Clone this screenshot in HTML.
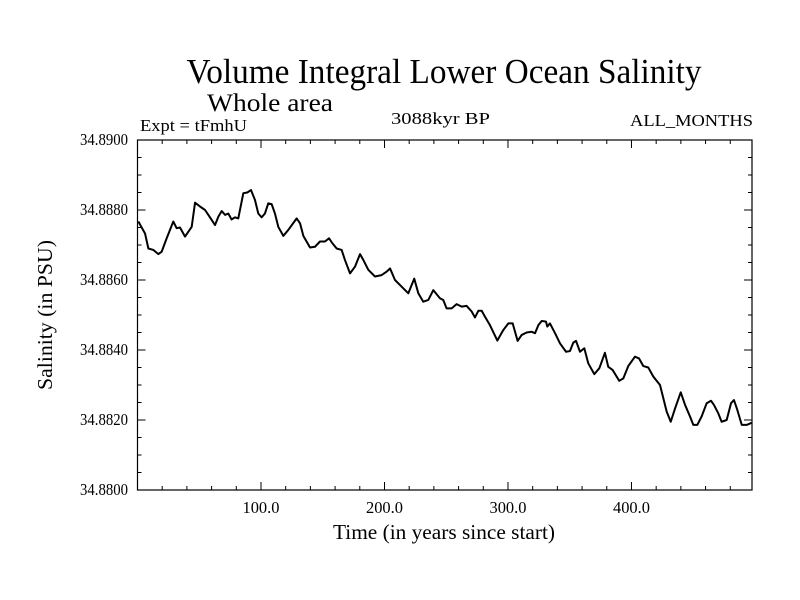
<!DOCTYPE html>
<html><head><meta charset="utf-8"><style>
html,body{margin:0;padding:0;background:#fff;}
svg{display:block;font-family:"Liberation Serif","Times New Roman",serif;}
</style></head><body>
<svg id="chart" width="800" height="600" viewBox="0 0 800 600" xmlns="http://www.w3.org/2000/svg">
<rect width="800" height="600" fill="#fff"/>
<text x="444" y="83" font-size="35" text-anchor="middle" textLength="515" lengthAdjust="spacingAndGlyphs">Volume Integral Lower Ocean Salinity</text>
<text x="207" y="111" font-size="25" textLength="126" lengthAdjust="spacingAndGlyphs">Whole area</text>
<text x="140" y="131" font-size="17" textLength="107" lengthAdjust="spacingAndGlyphs">Expt = tFmhU</text>
<text x="391" y="124" font-size="17" textLength="99" lengthAdjust="spacingAndGlyphs">3088kyr BP</text>
<text x="753" y="126" font-size="17" text-anchor="end" textLength="123" lengthAdjust="spacingAndGlyphs">ALL_MONTHS</text>
<g id="axes"></g>
<g id="series"></g>
<text x="0" y="0" font-size="21" text-anchor="middle" textLength="150" lengthAdjust="spacingAndGlyphs" transform="translate(52,315) rotate(-90)">Salinity (in PSU)</text>
<text x="444" y="539" font-size="21" text-anchor="middle" textLength="222" lengthAdjust="spacingAndGlyphs">Time (in years since start)</text>
</svg>
<script>
const years = [0.7,6.1,8.8,12.8,16.9,19.6,23.6,29.0,31.7,34.4,38.5,43.9,46.6,50.6,54.7,57.4,62.8,65.5,68.2,70.9,73.5,76.2,78.9,81.6,85.7,88.9,91.9,95.1,97.8,100.5,103.2,105.9,108.6,111.3,114.0,118.1,122.1,128.9,131.6,134.3,139.7,143.7,147.8,151.8,155.1,157.8,161.3,165.3,168.0,172.1,176.1,180.2,182.9,186.9,192.3,197.7,201.8,204.5,208.5,213.9,219.3,224.1,227.4,231.4,235.5,239.5,
244.9,247.6,250.3,254.4,258.4,262.5,266.5,270.6,273.3,276.0,278.7,281.4,285.4,291.4,296.2,300.3,303.8,307.8,311.1,315.1,319.2,321.9,324.6,327.3,330.8,331.8,334.0,338.1,342.1,347.0,350.2,352.9,355.1,358.3,361.8,365.0,369.9,374.0,378.5,381.2,384.7,390.1,393.4,397.4,402.8,406.1,409.6,413.6,417.7,423.1,425.8,428.5,431.8,435.3,439.9,443.4,447.4,450.1,453.3,456.8,460.9,464.4,466.8,470.3,473.0,477.1,480.6,483.0,485.7,489.3,493.3,497.3];
const salinity = [34.88767,34.88733,34.88690,34.88686,34.88674,34.88681,34.88719,34.88767,34.88748,34.88750,34.88724,34.88752,34.88821,34.88810,34.88800,34.88786,34.88757,34.88781,34.88797,34.88786,34.88790,34.88773,34.88779,34.88776,34.88848,34.88850,34.88857,34.88829,34.88790,34.88779,34.88790,34.88819,34.88817,34.88790,34.88752,34.88726,34.88743,34.88776,34.88762,34.88726,34.88693,34.88695,34.88710,34.88710,34.88719,34.88705,34.88690,34.88686,34.88657,34.88619,34.88638,34.88674,34.88657,34.88629,34.88610,34.88614,34.88624,34.88633,34.88600,34.88581,34.88562,34.88604,34.88562,34.88538,34.88543,34.88571,
34.88548,34.88543,34.88519,34.88519,34.88531,34.88524,34.88526,34.88510,34.88493,34.88512,34.88512,34.88495,34.88471,34.88427,34.88457,34.88476,34.88476,34.88426,34.88443,34.88450,34.88452,34.88448,34.88471,34.88483,34.88481,34.88467,34.88476,34.88448,34.88419,34.88395,34.88397,34.88421,34.88426,34.88395,34.88405,34.88362,34.88331,34.88348,34.88392,34.88352,34.88343,34.88312,34.88319,34.88354,34.88381,34.88376,34.88354,34.88350,34.88324,34.88300,34.88262,34.88224,34.88195,34.88233,34.88279,34.88243,34.88210,34.88186,34.88186,34.88210,34.88248,34.88255,34.88243,34.88219,34.88195,34.88200,34.88248,34.88257,34.88229,34.88186,34.88186,34.88192];
const xTickValues = [100,200,300,400];
const xTickLabels = ["100.0","200.0","300.0","400.0"];
const yTickValues = [34.88,34.882,34.884,34.886,34.888,34.89];
const yTickLabels = ["34.8800","34.8820","34.8840","34.8860","34.8880","34.8900"];
const xDomain = [0, 497.6];
const yDomain = [34.88, 34.89];

const NS = "http://www.w3.org/2000/svg";
const L = 137.5, R = 752, T = 140, B = 490;
const xS = v => L + (v - xDomain[0]) / (xDomain[1] - xDomain[0]) * (R - L);
const yS = v => B - (v - yDomain[0]) / (yDomain[1] - yDomain[0]) * (B - T);
function mk(tag, attrs, parent){const e=document.createElementNS(NS,tag);for(const k in attrs)e.setAttribute(k,attrs[k]);parent.appendChild(e);return e;}
const axes = document.getElementById('axes');
const frame = mk('rect',{x:L,y:T,width:R-L,height:B-T,fill:'none',stroke:'#000','stroke-width':1.2},axes);


for(let v=20; v<xDomain[1]; v+=20){
  const major = Math.abs(v%100)<1e-6;
  const len = major?8:4, x=xS(v);
  const t1 = mk('line',{x1:x,y1:B,x2:x,y2:B-len,stroke:'#000','stroke-width':1},axes);
  
  
  const t2 = mk('line',{x1:x,y1:T,x2:x,y2:T+len,stroke:'#000','stroke-width':1},axes);
  
  
}
xTickValues.forEach((v,i)=>{
  const t = mk('text',{x:xS(v),y:513,'font-size':17,'text-anchor':'middle',textLength:37,lengthAdjust:'spacingAndGlyphs'},axes);
  t.textContent = xTickLabels[i];
  
  
});
for(let k=1;k<20;k++){
  const v = yDomain[0] + k*0.0005;
  const major = k%4===0;
  const len = major?8:4, y=yS(v);
  const t1 = mk('line',{x1:L,y1:y,x2:L+len,y2:y,stroke:'#000','stroke-width':1},axes);
  
  
  const t2 = mk('line',{x1:R,y1:y,x2:R-len,y2:y,stroke:'#000','stroke-width':1},axes);
  
  
}
yTickValues.forEach((v,i)=>{
  const t = mk('text',{x:128,y:yS(v)+5,'font-size':17,'text-anchor':'end',textLength:48,lengthAdjust:'spacingAndGlyphs'},axes);
  t.textContent = yTickLabels[i];
  
  
});
const series = document.getElementById('series');
let d = '';
years.forEach((yr,i)=>{ d += (i?'L':'M') + xS(yr).toFixed(2) + ' ' + yS(salinity[i]).toFixed(2) + ' '; });
const path = mk('path',{d:d,fill:'none',stroke:'#000','stroke-width':2,'stroke-linejoin':'round'},series);


</script>
</body></html>
